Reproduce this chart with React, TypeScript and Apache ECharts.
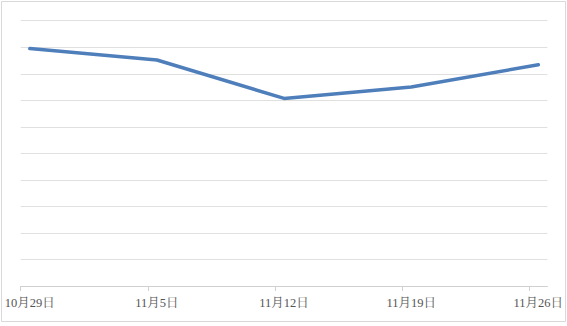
import React, { useEffect, useRef } from "react";
import * as echarts from "echarts";

const categories = ["10月29日", "11月5日", "11月12日", "11月19日", "11月26日"];
const values = [89.5, 85.2, 70.7, 75.0, 83.4];
const dayOffsets = [0, 7, 14, 21, 28];

export default function App() {
  const ref = useRef<HTMLDivElement>(null);
  useEffect(() => {
    if (!ref.current) return;
    const chart = echarts.init(ref.current, null, { renderer: "svg" });
    const labelMap: Record<string, string> = {};
    dayOffsets.forEach((d, i) => {
      labelMap[String(d + 0.5)] = categories[i];
    });
    chart.setOption({
      animation: false,
      backgroundColor: "#ffffff",
      grid: { left: 20.7, right: 19.6, top: 20.7, bottom: 40, containLabel: false },
      xAxis: {
        type: "value",
        min: 0,
        max: 29,
        axisLine: { show: true, lineStyle: { color: "#d0d0d0", width: 1 } },
        axisTick: {
          show: true,
          customValues: dayOffsets,
          length: 5,
          inside: false,
          lineStyle: { color: "#d0d0d0" },
        },
        axisLabel: {
          show: true,
          customValues: dayOffsets.map((d) => d + 0.5),
          formatter: (v: number) => labelMap[String(v)] ?? "",
          margin: 11,
          color: "#555555",
          fontSize: 12.5,
          fontFamily: "'Liberation Serif', 'Noto Serif CJK SC', 'Noto Sans CJK SC', serif",
        },
        splitLine: { show: false },
      },
      yAxis: {
        type: "value",
        min: 0,
        max: 100,
        interval: 10,
        axisLine: { show: false },
        axisTick: { show: false },
        axisLabel: { show: false },
        splitLine: { show: true, lineStyle: { color: "#e0e0e0", width: 1 } },
      },
      series: [
        {
          type: "line",
          data: values.map((v, i) => [dayOffsets[i] + 0.5, v]),
          showSymbol: false,
          symbol: "none",
          lineStyle: { color: "#4f7fbb", width: 3.5, cap: "round", join: "round" },
          itemStyle: { color: "#4f7fbb" },
        },
      ],
      graphic: [
        {
          type: "rect",
          shape: { x: 1.5, y: 1.5, width: 564, height: 320 },
          style: { fill: "none", stroke: "#d9d9d9", lineWidth: 1 },
          silent: true,
        },
      ],
    });
    return () => chart.dispose();
  }, []);
  return (
    <div
      ref={ref}
      style={{ position: "absolute", left: 0, top: 0, width: 567, height: 326 }}
    />
  );
}
